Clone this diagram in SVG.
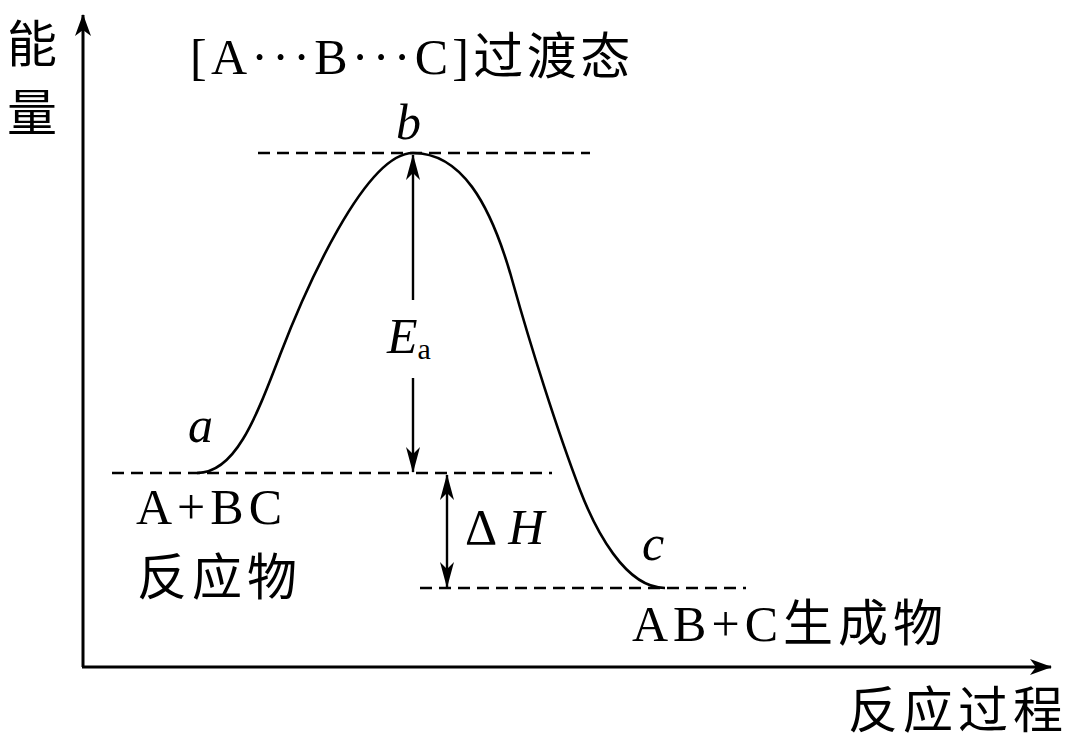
<svg xmlns="http://www.w3.org/2000/svg" width="1080" height="749" viewBox="0 0 1080 749">
<style>
.ax{stroke:#000;stroke-width:3;fill:none}
.ln{stroke:#000;stroke-width:2.4;fill:none}
.cv{stroke:#000;stroke-width:2.6;fill:none}
.ds{stroke:#000;stroke-width:2.4;fill:none;stroke-dasharray:12,7}
.t{font-family:"Liberation Serif","Noto Sans CJK SC",serif;font-size:50px;fill:#000;letter-spacing:5px}
.cj{font-family:"Noto Sans CJK SC",sans-serif;font-size:50px;fill:#000;letter-spacing:5px;font-weight:400}
.i{font-style:italic;letter-spacing:0}
</style>
<defs>
<marker id="ah" viewBox="0 0 26 14" refX="25" refY="7" markerWidth="26" markerHeight="14" markerUnits="userSpaceOnUse" orient="auto">
<path d="M0,0 L26,7 L0,14 L7,7 Z" fill="#000"/>
</marker>
<marker id="ahx" viewBox="0 0 22 16" refX="21" refY="8" markerWidth="22" markerHeight="16" markerUnits="userSpaceOnUse" orient="auto">
<path d="M0,0 L22,8 L0,16 L6,8 Z" fill="#000"/>
</marker>
</defs>
<g id="axes">
<line class="ax" x1="83" y1="667" x2="83" y2="15" marker-end="url(#ahx)"/>
<line class="ax" x1="82" y1="667" x2="1051" y2="667" marker-end="url(#ahx)"/>
</g>
<g id="levels">
<line class="ds" x1="258" y1="153" x2="590" y2="153"/>
<line class="ds" x1="112" y1="473" x2="552" y2="473"/>
<line class="ds" x1="420" y1="588" x2="746" y2="588"/>
</g>
<g id="curve">
<path class="cv" d="M197,473 C235,473 255,420 280,355 C305,290 365,153 413,153 C460,153 490,200 513,283 C530,344 557,430 580,490 C595,529 625,588 665,588"/>
</g>
<g id="connectors">
<line class="ln" x1="413" y1="300" x2="413" y2="155" marker-end="url(#ah)"/>
<line class="ln" x1="413" y1="378" x2="413" y2="472" marker-end="url(#ah)"/>
<line class="ln" x1="447" y1="530" x2="447" y2="475" marker-end="url(#ah)"/>
<line class="ln" x1="447" y1="530" x2="447" y2="587" marker-end="url(#ah)"/>
</g>
<g id="labels">
<text class="cj" x="7" y="62">能</text>
<text class="cj" x="7" y="131">量</text>
<text class="t" x="190" y="74" style="letter-spacing:4.3px">[A···B···C]<tspan class="cj" style="letter-spacing:3.5px">过渡态</tspan></text>
<text class="t i" x="396" y="139">b</text>
<text class="t i" x="188" y="442">a</text>
<text class="t i" x="642" y="560">c</text>
<text class="t i" x="387" y="353">E<tspan font-style="normal" font-size="30" dy="6">a</tspan></text>
<text class="t" x="465" y="544">Δ<tspan class="i" dx="6">H</tspan></text>
<text class="t" x="136" y="524">A+BC</text>
<text class="cj" x="137" y="595">反应物</text>
<text class="t" x="632" y="641">AB+C<tspan class="cj">生成物</tspan></text>
<text class="cj" x="848" y="728">反应过程</text>
</g>
</svg>
